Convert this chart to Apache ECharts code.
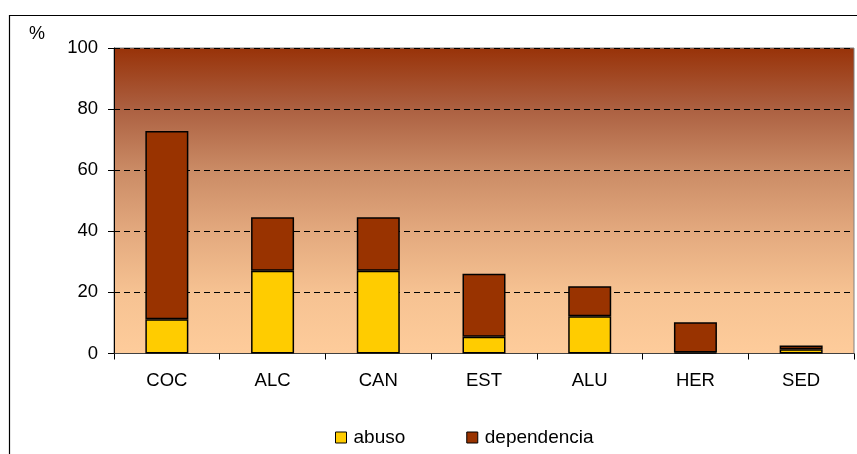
<!DOCTYPE html>
<html>
<head>
<meta charset="utf-8">
<script src="https://cdn.jsdelivr.net/npm/echarts@6/dist/echarts.min.js"></script>
<style>
html,body{margin:0;padding:0;background:#fff;}
#c{width:857px;height:454px;}
</style>
</head>
<body>
<div id="c"></div>
<script>
const categories = ['COC', 'ALC', 'CAN', 'EST', 'ALU', 'HER', 'SED'];
const abuso = [11.2, 27.1, 27.1, 5.5, 12.2, 0.3, 1.4];
const dependencia = [61.6, 17.5, 17.5, 20.6, 9.8, 9.9, 1.2];
const yTicks = [0, 20, 40, 60, 80, 100];

const FONT = '"Liberation Sans", Arial, sans-serif';
const chart = echarts.init(document.getElementById('c'), null, {renderer: 'canvas'});
chart.setOption({
  animation: false,
  backgroundColor: '#ffffff',
  textStyle: {fontFamily: FONT},
  grid: {
    left: 114, top: 48, right: 3, bottom: 100.5,
    show: true,
    borderColor: '#808080', borderWidth: 1,
    backgroundColor: {
      type: 'linear', x: 0, y: 0, x2: 0, y2: 1,
      colorStops: [
        {offset: 0, color: '#983208'},
        {offset: 0.2, color: '#ac6041'},
        {offset: 0.4, color: '#ca8b65'},
        {offset: 0.6, color: '#e3a97e'},
        {offset: 0.8, color: '#f6c292'},
        {offset: 1, color: '#fecc9b'}
      ]
    }
  },
  graphic: [
    {type: 'rect', silent: true, z: -1,
     shape: {x: 9.5, y: 15.5, width: 900, height: 500},
     style: {fill: 'none', stroke: '#000', lineWidth: 1.2}},
    {type: 'text', left: 29, top: 25,
     style: {text: '%', font: '18px ' + FONT, fill: '#000'}}
  ],
  legend: {
    data: ['abuso', 'dependencia'],
    left: 335, top: 428, padding: 0,
    itemWidth: 11, itemHeight: 11, itemGap: 61,
    icon: 'rect',
    textStyle: {fontSize: 19, color: '#000', fontFamily: FONT, padding: [0, 0, 0, 2]},
    itemStyle: {borderColor: '#000', borderWidth: 1}
  },
  xAxis: {
    type: 'category',
    data: categories,
    boundaryGap: true,
    axisLine: {show: true, lineStyle: {color: '#404040', width: 1}},
    axisTick: {show: true, length: 6, alignWithLabel: false, lineStyle: {color: '#000'}},
    axisLabel: {fontSize: 18.5, color: '#000', margin: 18, fontFamily: FONT},
    splitLine: {show: false}
  },
  yAxis: {
    type: 'value',
    min: yTicks[0], max: yTicks[yTicks.length - 1], interval: 20,
    axisLine: {show: true, lineStyle: {color: '#000', width: 1}},
    axisTick: {show: true, length: 6, lineStyle: {color: '#000'}},
    axisLabel: {fontSize: 18.5, color: '#000', margin: 16, fontFamily: FONT},
    splitLine: {show: true, lineStyle: {color: '#000', type: [6, 4], width: 1}}
  },
  series: [
    {name: 'abuso', type: 'bar', stack: 's', data: abuso, barWidth: 43,
     itemStyle: {color: '#FFCC00', borderColor: '#000', borderWidth: 1.5}},
    {name: 'dependencia', type: 'bar', stack: 's', data: dependencia, barWidth: 43,
     itemStyle: {color: '#993300', borderColor: '#000', borderWidth: 1.5}}
  ]
});
</script>
</body>
</html>
